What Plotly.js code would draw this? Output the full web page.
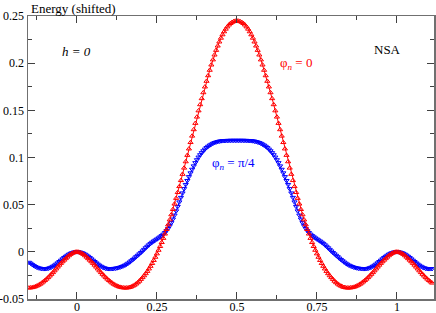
<!DOCTYPE html>
<html><head><meta charset="utf-8">
<script src="https://cdn.plot.ly/plotly-3.0.1.min.js"></script>
<style>html,body{margin:0;padding:0;background:#fff}#c{width:436px;height:313px}</style>
</head><body><div id="c"></div>
<script>
// x grid (step 0.005) from -0.15 to 1.11
var xs = [-0.15,-0.145,-0.14,-0.135,-0.13,-0.125,-0.12,-0.115,-0.11,-0.105,-0.1,-0.095,-0.09,-0.085,-0.08,-0.075,-0.07,-0.065,-0.06,-0.055,-0.05,-0.045,-0.04,-0.035,-0.03,-0.025,-0.02,-0.015,-0.01,-0.005,
0,0.005,0.01,0.015,0.02,0.025,0.03,0.035,0.04,0.045,0.05,0.055,0.06,0.065,0.07,0.075,0.08,0.085,0.09,0.095,
0.1,0.105,0.11,0.115,0.12,0.125,0.13,0.135,0.14,0.145,0.15,0.155,0.16,0.165,0.17,0.175,0.18,0.185,0.19,0.195,
0.2,0.205,0.21,0.215,0.22,0.225,0.23,0.235,0.24,0.245,0.25,0.255,0.26,0.265,0.27,0.275,0.28,0.285,0.29,0.295,
0.3,0.305,0.31,0.315,0.32,0.325,0.33,0.335,0.34,0.345,0.35,0.355,0.36,0.365,0.37,0.375,0.38,0.385,0.39,0.395,
0.4,0.405,0.41,0.415,0.42,0.425,0.43,0.435,0.44,0.445,0.45,0.455,0.46,0.465,0.47,0.475,0.48,0.485,0.49,0.495,
0.5,0.505,0.51,0.515,0.52,0.525,0.53,0.535,0.54,0.545,0.55,0.555,0.56,0.565,0.57,0.575,0.58,0.585,0.59,0.595,
0.6,0.605,0.61,0.615,0.62,0.625,0.63,0.635,0.64,0.645,0.65,0.655,0.66,0.665,0.67,0.675,0.68,0.685,0.69,0.695,
0.7,0.705,0.71,0.715,0.72,0.725,0.73,0.735,0.74,0.745,0.75,0.755,0.76,0.765,0.77,0.775,0.78,0.785,0.79,0.795,
0.8,0.805,0.81,0.815,0.82,0.825,0.83,0.835,0.84,0.845,0.85,0.855,0.86,0.865,0.87,0.875,0.88,0.885,0.89,0.895,
0.9,0.905,0.91,0.915,0.92,0.925,0.93,0.935,0.94,0.945,0.95,0.955,0.96,0.965,0.97,0.975,0.98,0.985,0.99,0.995,
1,1.005,1.01,1.015,1.02,1.025,1.03,1.035,1.04,1.045,1.05,1.055,1.06,1.065,1.07,1.075,1.08,1.085,1.09,1.095,
1.1,1.105,1.11];

// phi_n = 0 (red)
var phi0 = [-0.0382,-0.0381,-0.0378,-0.0374,-0.0368,-0.0361,-0.0352,-0.0342,-0.0330,-0.0317,-0.0303,-0.0288,-0.0272,-0.0255,-0.0237,-0.0219,-0.0200,-0.0180,-0.0160,-0.0140,-0.0121,-0.0104,-0.0087,-0.0071,-0.0055,-0.0040,-0.0026,-0.0015,-0.0007,-0.0002,
0.0000,-0.0002,-0.0007,-0.0015,-0.0026,-0.0040,-0.0055,-0.0071,-0.0087,-0.0104,-0.0121,-0.0140,-0.0160,-0.0180,-0.0200,-0.0219,-0.0237,-0.0255,-0.0272,-0.0288,
-0.0303,-0.0317,-0.0330,-0.0342,-0.0352,-0.0361,-0.0368,-0.0374,-0.0378,-0.0381,-0.0382,-0.0382,-0.0380,-0.0376,-0.0370,-0.0362,-0.0352,-0.0340,-0.0326,-0.0310,
-0.0291,-0.0272,-0.0252,-0.0230,-0.0206,-0.0180,-0.0152,-0.0122,-0.0090,-0.0056,-0.0020,0.0018,0.0058,0.0100,0.0144,0.0190,0.0238,0.0288,0.0340,0.0394,
0.0450,0.0508,0.0568,0.0630,0.0693,0.0757,0.0823,0.0889,0.0956,0.1024,0.1092,0.1160,0.1228,0.1296,0.1363,0.1430,0.1496,0.1561,0.1625,0.1688,
0.1749,0.1809,0.1868,0.1926,0.1982,0.2036,0.2088,0.2137,0.2183,0.2226,0.2266,0.2302,0.2334,0.2362,0.2386,0.2406,0.2422,0.2434,0.2442,0.2447,
0.2449,0.2447,0.2442,0.2434,0.2422,0.2406,0.2386,0.2362,0.2334,0.2302,0.2266,0.2226,0.2183,0.2137,0.2088,0.2036,0.1982,0.1926,0.1868,0.1809,
0.1749,0.1688,0.1625,0.1561,0.1496,0.1430,0.1363,0.1296,0.1228,0.1160,0.1092,0.1024,0.0956,0.0889,0.0823,0.0757,0.0693,0.0630,0.0568,0.0508,
0.0450,0.0394,0.0340,0.0288,0.0238,0.0190,0.0144,0.0100,0.0058,0.0018,-0.0020,-0.0056,-0.0090,-0.0122,-0.0152,-0.0180,-0.0206,-0.0230,-0.0252,-0.0272,
-0.0291,-0.0310,-0.0326,-0.0340,-0.0352,-0.0362,-0.0370,-0.0376,-0.0380,-0.0382,-0.0382,-0.0381,-0.0378,-0.0374,-0.0368,-0.0361,-0.0352,-0.0342,-0.0330,-0.0317,
-0.0303,-0.0288,-0.0272,-0.0255,-0.0237,-0.0219,-0.0200,-0.0180,-0.0160,-0.0140,-0.0121,-0.0104,-0.0087,-0.0071,-0.0055,-0.0040,-0.0026,-0.0015,-0.0007,-0.0002,
0.0000,-0.0002,-0.0007,-0.0015,-0.0026,-0.0040,-0.0055,-0.0071,-0.0087,-0.0104,-0.0121,-0.0140,-0.0160,-0.0180,-0.0200,-0.0219,-0.0237,-0.0255,-0.0272,-0.0288,
-0.0303,-0.0317,-0.0330];

// phi_n = pi/4 (blue)
var phiPi4 = [-0.0112,-0.0122,-0.0135,-0.0147,-0.0157,-0.0165,-0.0171,-0.0175,-0.0178,-0.0180,-0.0180,-0.0179,-0.0176,-0.0170,-0.0163,-0.0154,-0.0143,-0.0131,-0.0118,-0.0104,-0.0090,-0.0076,-0.0062,-0.0049,-0.0037,-0.0026,-0.0017,-0.0010,-0.0004,-0.0001,
0.0000,-0.0001,-0.0004,-0.0010,-0.0017,-0.0026,-0.0037,-0.0049,-0.0062,-0.0076,-0.0090,-0.0104,-0.0118,-0.0131,-0.0143,-0.0154,-0.0163,-0.0170,-0.0176,-0.0179,
-0.0180,-0.0180,-0.0179,-0.0177,-0.0175,-0.0172,-0.0168,-0.0163,-0.0157,-0.0150,-0.0142,-0.0132,-0.0121,-0.0109,-0.0096,-0.0082,-0.0068,-0.0053,-0.0038,-0.0023,
-0.0008,0.0008,0.0025,0.0042,0.0058,0.0073,0.0088,0.0101,0.0113,0.0124,0.0135,0.0146,0.0158,0.0171,0.0186,0.0203,0.0223,0.0247,0.0275,0.0308,
0.0346,0.0388,0.0433,0.0480,0.0528,0.0576,0.0623,0.0669,0.0713,0.0755,0.0796,0.0836,0.0874,0.0910,0.0944,0.0975,0.1003,0.1028,0.1050,0.1070,
0.1088,0.1104,0.1118,0.1130,0.1140,0.1149,0.1157,0.1163,0.1168,0.1172,0.1175,0.1177,0.1178,0.1179,0.1180,0.1180,0.1181,0.1181,0.1181,0.1181,
0.1181,0.1181,0.1181,0.1181,0.1181,0.1180,0.1180,0.1179,0.1178,0.1177,0.1175,0.1172,0.1168,0.1163,0.1157,0.1149,0.1140,0.1130,0.1118,0.1104,
0.1088,0.1070,0.1050,0.1028,0.1003,0.0975,0.0944,0.0910,0.0874,0.0836,0.0796,0.0755,0.0713,0.0669,0.0623,0.0576,0.0528,0.0480,0.0433,0.0388,
0.0346,0.0308,0.0275,0.0247,0.0223,0.0203,0.0186,0.0171,0.0158,0.0146,0.0135,0.0124,0.0113,0.0101,0.0088,0.0073,0.0058,0.0042,0.0025,0.0008,
-0.0008,-0.0023,-0.0038,-0.0053,-0.0068,-0.0082,-0.0096,-0.0109,-0.0121,-0.0132,-0.0142,-0.0150,-0.0157,-0.0163,-0.0168,-0.0172,-0.0175,-0.0177,-0.0179,-0.0180,
-0.0180,-0.0179,-0.0176,-0.0170,-0.0163,-0.0154,-0.0143,-0.0131,-0.0118,-0.0104,-0.0090,-0.0076,-0.0062,-0.0049,-0.0037,-0.0026,-0.0017,-0.0010,-0.0004,-0.0001,
0.0000,-0.0001,-0.0004,-0.0010,-0.0017,-0.0026,-0.0037,-0.0049,-0.0062,-0.0076,-0.0090,-0.0104,-0.0118,-0.0131,-0.0143,-0.0154,-0.0163,-0.0170,-0.0176,-0.0179,
-0.0180,-0.0180,-0.0179];

var xTickVals = [0, 0.25, 0.5, 0.75, 1];
var xTickText = ['0', '0.25', '0.5', '0.75', '1'];
var yTickVals = [-0.05, 0, 0.05, 0.1, 0.15, 0.2, 0.25];
var yTickText = ['-0.05', '0', '0.05', '0.1', '0.15', '0.2', '0.25'];

var FONT = 'Liberation Serif, Tinos, Times New Roman, Times, DejaVu Serif, serif';

var traces = [
  {x: xs, y: phiPi4, type: 'scatter', mode: 'lines+markers', name: 'pi/4',
   line: {color: '#0000ff', width: 1},
   marker: {symbol: 'triangle-down-open', size: 4.5, color: '#0000ff', line: {width: 1, color: '#0000ff'}}},
  {x: xs, y: phi0, type: 'scatter', mode: 'lines+markers', name: '0',
   line: {color: '#ff0000', width: 1},
   marker: {symbol: 'triangle-up-open', size: 4.5, color: '#ff0000', line: {width: 1, color: '#ff0000'}}}
];

var axisCommon = {
  showgrid: false, zeroline: false, showline: true, linecolor: '#707070', linewidth: 1.5,
  mirror: 'allticks', ticks: 'inside', ticklen: 7, tickwidth: 1, tickcolor: '#404040',
  tickfont: {family: FONT, size: 12, color: '#000'}
};

var layout = {
  width: 436, height: 313,
  margin: {l: 28, r: 2, t: 16, b: 14, pad: 0},
  paper_bgcolor: '#fff', plot_bgcolor: '#fff',
  showlegend: false,
  font: {family: FONT, size: 12, color: '#000'},
  xaxis: Object.assign({}, axisCommon, {
    range: [-0.153, 1.116], tickmode: 'array', tickvals: xTickVals, ticktext: xTickText,
    ticklabelstandoff: -4,
    minor: {dtick: 0.125, tick0: 0, ticks: 'inside', ticklen: 4, tickcolor: '#404040', tickwidth: 1, showgrid: false}
  }),
  yaxis: Object.assign({}, axisCommon, {
    range: [-0.05, 0.25], tickmode: 'array', tickvals: yTickVals, ticktext: yTickText,
    ticklabelstandoff: 0,
    minor: {dtick: 0.025, tick0: 0, ticks: 'inside', ticklen: 4, tickcolor: '#404040', tickwidth: 1, showgrid: false}
  }),
  annotations: [
    {xref: 'paper', yref: 'paper', x: 0.111, y: 1, xanchor: 'center', yanchor: 'middle', yshift: 8,
     text: 'Energy (shifted)', showarrow: false, font: {family: FONT, size: 13, color: '#000'}},
    {xref: 'x', yref: 'y', x: 0.0, y: 0.212, text: '<i>h = 0</i>', showarrow: false,
     font: {family: FONT, size: 13, color: '#000'}},
    {xref: 'x', yref: 'y', x: 0.972, y: 0.214, text: 'NSA', showarrow: false,
     font: {family: FONT, size: 13, color: '#000'}},
    {xref: 'x', yref: 'y', x: 0.684, y: 0.200, text: 'φ<sub><i>n</i></sub> = 0', showarrow: false,
     font: {family: FONT, size: 13, color: '#ff0000'}},
    {xref: 'x', yref: 'y', x: 0.488, y: 0.094, text: 'φ<sub><i>n</i></sub> = π/4', showarrow: false,
     font: {family: FONT, size: 13, color: '#0000ff'}}
  ]
};

Plotly.newPlot('c', traces, layout, {displayModeBar: false, staticPlot: true});
</script>
</body></html>
